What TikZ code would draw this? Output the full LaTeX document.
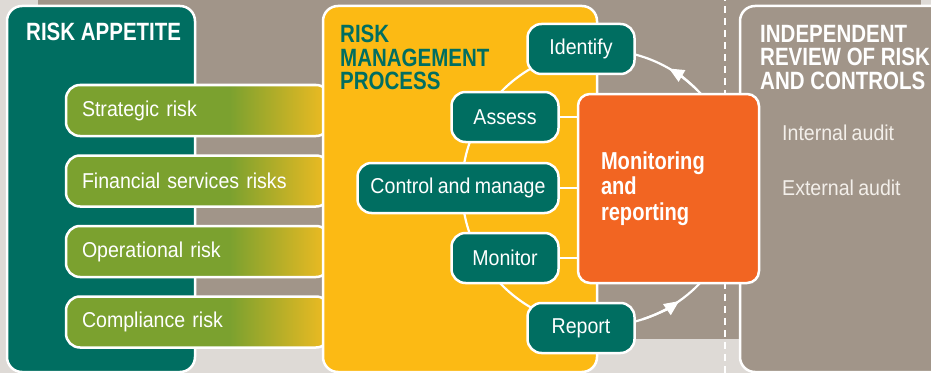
\documentclass[tikz,border=0pt]{standalone}
\usepackage{fontspec}
\setmainfont{Liberation Sans}[FakeStretch=0.91,BoldFeatures={FakeStretch=0.82}]
\usepackage{tikz}
\usetikzlibrary{arrows.meta, positioning}

\definecolor{riskpale}{HTML}{DEDAD6}
\definecolor{risktaupe}{HTML}{A19589}
\definecolor{riskteal}{HTML}{006E61}
\definecolor{riskgreen}{HTML}{7BA12F}
\definecolor{riskyellow}{HTML}{FCBA14}
\definecolor{riskorange}{HTML}{F26522}
\definecolor{barend}{HTML}{EBBA22}
\definecolor{auditgrey}{HTML}{F3EFEA}

\pgfdeclarehorizontalshading{barfade}{100bp}{color(0bp)=(riskgreen); color(56bp)=(riskgreen); color(74bp)=(barend); color(100bp)=(barend)}

\newcommand\bodysize{\fontsize{21.5}{24}\selectfont\spaceskip=0.2em\relax}
\newcommand\titlesize{\fontsize{25}{23.5}\selectfont}
\newcommand\boxsize{\fontsize{24.5}{25.5}\selectfont}

\begin{document}
\begin{tikzpicture}[x=1pt, y=1pt,
  panel/.style={draw=white, line width=2.5pt, rounded corners=15pt},
  paneltitle/.style={anchor=north west, inner sep=0pt, align=left, font=\titlesize\bfseries},
  riskbar/.style={draw=white, line width=2.5pt, rounded corners=14pt, shade, shading=barfade,
    text=white, font=\bodysize, text width=232pt, inner xsep=16pt, minimum height=51pt, align=left},
  phase/.style={draw=white, line width=2.5pt, fill=riskteal, rounded corners=14pt,
    minimum width=107pt, minimum height=50pt, text=white, font=\bodysize},
  audit/.style={anchor=base west, inner sep=0pt, text=auditgrey, font=\bodysize},
  cycleline/.style={draw=white, line width=2.2pt}]
\useasboundingbox (0,0) rectangle (931,373);
\clip (0,0) rectangle (931,373);
\fill[riskpale] (0,0) rectangle (931,373);
\fill[risktaupe] (38,34) rectangle (921,373);
\draw[white, line width=2.5pt, dash pattern=on 7pt off 5pt] (725,0) -- (725,373);

\draw[panel, fill=riskteal] (7,1) rectangle (195,367);
\node[paneltitle, text=white] (appetite) at (26,350) {RISK APPETITE};

\node[riskbar] (strategic) at (198,262.5) {Strategic risk};
\node[riskbar, below=17pt of strategic] (financial) {Financial services risks};
\node[riskbar, below=17pt of financial] (operational) {Operational risk};
\node[riskbar, below=17pt of operational] (compliance) {Compliance risk};

\draw[panel, fill=riskyellow] (323,1) rectangle (597,367);
\node[paneltitle, text=riskteal] (process) at (340,348) {RISK\\MANAGEMENT\\PROCESS};

\draw[panel, fill=risktaupe] (740,1) rectangle (960,367);
\node[paneltitle, text=white] (review) at (760,348) {INDEPENDENT\\REVIEW OF RISK\\AND CONTROLS};
\node[audit] (internal) at (782,233) {Internal audit};
\node[audit] (external) at (782,178) {External audit};

\coordinate (hub) at (600,185);
\draw[cycleline] (hub) circle[radius=138];

\node[draw=white, line width=2.5pt, fill=riskorange, rounded corners=12pt, minimum width=181pt,
  minimum height=189pt, text width=135pt, inner xsep=23pt, align=left, text=white,
  font=\boxsize\bfseries] (monitoring) at (668.5,184.5) {Monitoring\\and\\reporting};

\node[phase] (identify) at (581,324) {Identify};
\node[phase] (assess) at (505,256) {Assess};
\node[phase, minimum width=201pt] (control) at (458,185) {Control and manage};
\node[phase] (monitor) at (505,115) {Monitor};
\node[phase] (report) at (581,45) {Report};

\foreach \n in {assess, control, monitor}
  \draw[cycleline] (\n.east) -- (\n.east -| monitoring.west);

\draw[cycleline, -{Triangle[length=15pt, width=13pt]}] ([shift={(-72:138)}]hub) arc[start angle=-72, end angle=-55, radius=138];
\draw[cycleline, -{Triangle[length=15pt, width=13pt]}] ([shift={(45:138)}]hub) arc[start angle=45, end angle=60, radius=138];
\end{tikzpicture}
\end{document}
